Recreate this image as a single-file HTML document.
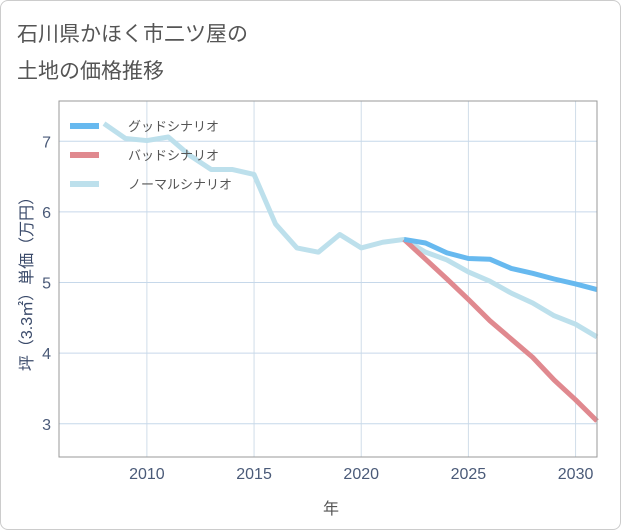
<!DOCTYPE html>
<html><head><meta charset="utf-8"><style>
body{margin:0;background:#fff;font-family:"Liberation Sans","Noto Sans CJK JP",sans-serif}
#card{position:absolute;left:0;top:0;width:619px;height:528px;border:1px solid #ccc;border-radius:8px;background:#fff}
</style></head><body>
<div id="card"></div>
<svg id="chart" width="621" height="530" style="position:absolute;left:0;top:0" font-family="Liberation Sans, Noto Sans CJK JP, sans-serif">
<text x="17" y="41" font-size="21" fill="#555">石川県かほく市二ツ屋の</text>
<text x="17" y="78" font-size="21" fill="#555">土地の価格推移</text>
<g id="grid"></g><g id="series"></g><g id="axes"></g>
<text x="331" y="514" font-size="16" fill="#555" text-anchor="middle">年</text>
<text transform="translate(32,280) rotate(-90)" font-size="16" fill="#3a4a6a" text-anchor="middle">坪（3.3㎡）単価（万円）</text>
</svg>
<script>
const years=[2008,2009,2010,2011,2012,2013,2014,2015,2016,2017,2018,2019,2020,2021,2022];
const histValues=[7.25,7.04,7.01,7.06,6.80,6.60,6.60,6.53,5.83,5.49,5.43,5.68,5.49,5.57,5.61];
const futureYears=[2022,2023,2024,2025,2026,2027,2028,2029,2030,2031];
const goodValues=[5.61,5.56,5.42,5.34,5.33,5.20,5.13,5.05,4.98,4.90];
const badValues=[5.61,5.33,5.05,4.76,4.46,4.20,3.94,3.62,3.34,3.04];
const normalValues=[5.61,5.43,5.32,5.15,5.02,4.85,4.71,4.53,4.41,4.23];
const xTicks=[2010,2015,2020,2025,2030];
const yTicks=[3,4,5,6,7];
const L=59,R=597,T=101,B=457,x0=2005.9,x1=2031,y0=2.53,y1=7.57;
const X=v=>L+(v-x0)/(x1-x0)*(R-L);
const Y=v=>B-(v-y0)/(y1-y0)*(B-T);
const NS="http://www.w3.org/2000/svg";
function mk(tag,attrs,parent,text){const e=document.createElementNS(NS,tag);for(const k in attrs)e.setAttribute(k,attrs[k]);if(text!==undefined)e.textContent=text;document.getElementById(parent).appendChild(e);return e;}
for(const t of xTicks){
 const g=mk('line',{x1:X(t),x2:X(t),y1:T,y2:B,stroke:'#d0dde9','stroke-width':1},'grid');
 
 
 const l=mk('text',{x:X(t),y:B+22,'font-size':16,fill:'#4a5a78','text-anchor':'middle'},'axes',String(t));
 
 
}
for(const t of yTicks){
 const g=mk('line',{x1:L,x2:R,y1:Y(t),y2:Y(t),stroke:'#c6d8ea','stroke-width':1},'grid');
 
 
 const l=mk('text',{x:L-8,y:Y(t)+6,'font-size':16,fill:'#4a5a78','text-anchor':'end'},'axes',String(t));
 
 
}
const frame=mk('rect',{x:L,y:T,width:R-L,height:B-T,fill:'none',stroke:'#999','stroke-width':1},'axes');


function line(xs,vs,color,name){
 const p=mk('polyline',{points:xs.map((x,i)=>X(x)+','+Y(vs[i])).join(' '),fill:'none',stroke:color,'stroke-width':5,'stroke-linejoin':'round'},'series');
 
 
}
const nX=years.concat(futureYears.slice(1)),nV=histValues.concat(normalValues.slice(1));
line(nX,nV,'#bde0ec','normal-scenario-line');
line(futureYears,badValues,'#e0898f','bad-scenario-line');
line(futureYears,goodValues,'#67b9ef','good-scenario-line');
const leg=[['グッドシナリオ','#67b9ef'],['バッドシナリオ','#e0898f'],['ノーマルシナリオ','#bde0ec']];
leg.forEach((d,i)=>{
 const y=126+i*29;
 const s=mk('line',{x1:70,x2:99,y1:y,y2:y,stroke:d[1],'stroke-width':6},'axes');
 
 
 const t=mk('text',{x:128,y:y+5,'font-size':13,fill:'#555'},'axes',d[0]);
 
 
});
</script>
</body></html>
